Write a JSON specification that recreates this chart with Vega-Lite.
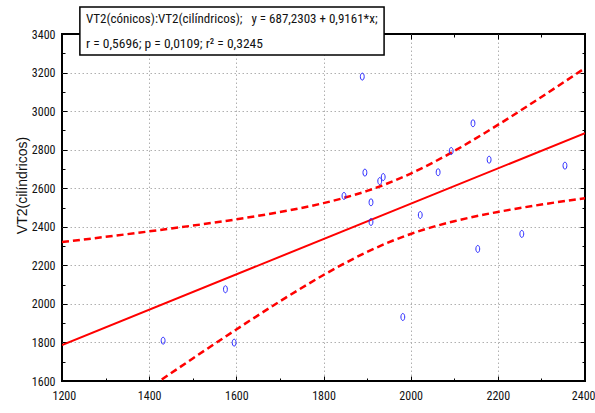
{
  "$schema": "https://vega.github.io/schema/vega-lite/v6.json",
  "width": 523,
  "height": 347,
  "autosize": {"type": "none"},
  "padding": {"left": 62, "top": 34, "right": 10, "bottom": 32},
  "background": "white",
  "config": {
    "view": {"stroke": "black", "strokeWidth": 2},
    "axis": {"labelFont": "Liberation Sans Narrow, Roboto Condensed, DejaVu Sans Condensed, Liberation Sans, sans-serif", "labelFontSize": 12, "labelColor": "#111111", "tickColor": "black", "tickWidth": 1, "domain": false, "grid": false, "labels": false, "format": "d", "labelFlush": false}
  },
  "datasets": {
    "pts": [
      {"x": 1432, "y": 1809}, {"x": 1575, "y": 2076}, {"x": 1595, "y": 1799}, {"x": 1847, "y": 2560},
      {"x": 1889, "y": 3179}, {"x": 1895, "y": 2681}, {"x": 1909, "y": 2527}, {"x": 1909, "y": 2425},
      {"x": 1929, "y": 2637}, {"x": 1937, "y": 2658}, {"x": 1982, "y": 1932}, {"x": 2022, "y": 2461},
      {"x": 2063, "y": 2683}, {"x": 2093, "y": 2793}, {"x": 2143, "y": 2937}, {"x": 2154, "y": 2285},
      {"x": 2180, "y": 2748}, {"x": 2255, "y": 2363}, {"x": 2354, "y": 2717}
    ],
    "fit": [{"x": 1200, "y": 1786.6}, {"x": 2400, "y": 2885.9}],
    "band": [
      {"x": 1200, "upper": 2320.5, "lower": 1252.6},
      {"x": 1300, "upper": 2347.8, "lower": 1408.6},
      {"x": 1400, "upper": 2376.1, "lower": 1563.5},
      {"x": 1500, "upper": 2406.0, "lower": 1716.8},
      {"x": 1600, "upper": 2438.7, "lower": 1867.3},
      {"x": 1700, "upper": 2476.2, "lower": 2013.0},
      {"x": 1800, "upper": 2522.7, "lower": 2149.7},
      {"x": 1900, "upper": 2586.2, "lower": 2269.4},
      {"x": 2000, "upper": 2676.1, "lower": 2362.7},
      {"x": 2100, "upper": 2793.1, "lower": 2428.9},
      {"x": 2200, "upper": 2928.3, "lower": 2477.0},
      {"x": 2300, "upper": 3073.2, "lower": 2515.3},
      {"x": 2400, "upper": 3223.3, "lower": 2548.5}
    ]
  },
  "resolve": {"axis": {"x": "independent", "y": "independent"}},
  "layer": [
    {
      "data": {"name": "band"},
      "mark": {"type": "line", "color": "#ff0000", "strokeWidth": 2.5, "strokeDash": [7, 4], "interpolate": "natural", "clip": true},
      "encoding": {
        "x": {"field": "x", "type": "quantitative", "scale": {"domain": [1200, 2400], "nice": false, "zero": false},
              "axis": {"orient": "bottom", "values": [1400, 1600, 1800, 2000, 2200], "grid": true, "gridColor": "#b0b0b0", "gridDash": [1.5, 2.5], "gridWidth": 1, "ticks": false, "labels": false, "title": null}},
        "y": {"field": "upper", "type": "quantitative", "scale": {"domain": [1600, 3400], "nice": false, "zero": false},
              "axis": {"orient": "left", "values": [1800, 2000, 2200, 2400, 2600, 2800, 3000, 3200], "grid": true, "gridColor": "#b0b0b0", "gridDash": [1.5, 2.5], "gridWidth": 1, "ticks": false, "labels": false, "title": null}}
      }
    },
    {
      "data": {"name": "band"},
      "mark": {"type": "line", "color": "#ff0000", "strokeWidth": 2.5, "strokeDash": [7, 4], "interpolate": "natural", "clip": true},
      "encoding": {
        "x": {"field": "x", "type": "quantitative",
              "axis": {"orient": "bottom", "values": [1300, 1500, 1700, 1900, 2100, 2300], "tickSize": -3, "labels": false, "title": null}},
        "y": {"field": "lower", "type": "quantitative",
              "axis": {"orient": "left", "values": [1700, 1900, 2100, 2300, 2500, 2700, 2900, 3100, 3300], "tickSize": -3, "labels": false, "title": null}}
      }
    },
    {
      "data": {"name": "fit"},
      "mark": {"type": "line", "color": "#ff0000", "strokeWidth": 2, "clip": true},
      "encoding": {
        "x": {"field": "x", "type": "quantitative",
              "axis": {"orient": "top", "values": [1200, 1400, 1600, 1800, 2000, 2200, 2400], "tickSize": -5, "labels": false, "title": null}},
        "y": {"field": "y", "type": "quantitative",
              "axis": {"orient": "right", "values": [1600, 1800, 2000, 2200, 2400, 2600, 2800, 3000, 3200, 3400], "tickSize": -5, "labels": false, "title": null}}
      }
    },
    {
      "data": {"name": "band"},
      "mark": {"type": "line", "opacity": 0, "clip": true},
      "encoding": {
        "x": {"field": "x", "type": "quantitative",
              "axis": {"orient": "top", "values": [1300, 1500, 1700, 1900, 2100, 2300], "tickSize": -3, "labels": false, "title": null}},
        "y": {"field": "upper", "type": "quantitative",
              "axis": {"orient": "right", "values": [1700, 1900, 2100, 2300, 2500, 2700, 2900, 3100, 3300], "tickSize": -3, "labels": false, "title": null}}
      }
    },
    {
      "data": {"name": "pts"},
      "mark": {"type": "point", "shape": "M0,-1C0.304,-1,0.55,-0.552,0.55,0C0.55,0.552,0.304,1,0,1C-0.304,1,-0.55,0.552,-0.55,0C-0.55,-0.552,-0.304,-1,0,-1Z", "size": 49, "filled": false, "color": "#2b2bff", "strokeWidth": 1, "opacity": 1},
      "encoding": {
        "x": {"field": "x", "type": "quantitative",
              "axis": {"orient": "bottom", "values": [1200, 1400, 1600, 1800, 2000, 2200, 2400], "tickSize": -5, "labels": true, "labelPadding": 14, "labelFlush": true, "labelFlushOffset": 10, "title": null}},
        "y": {"field": "y", "type": "quantitative",
              "axis": {"orient": "left", "values": [1600, 1800, 2000, 2200, 2400, 2600, 2800, 3000, 3200, 3400], "tickSize": -5, "labels": true, "labelPadding": 12,
                       "title": "VT2(cilíndricos)", "titleFont": "Liberation Sans", "titleFontSize": 14, "titleFontWeight": "normal", "titleColor": "#111111",
                       "titleAngle": 270, "titleAlign": "center", "titleBaseline": "middle", "titleX": -40, "titleY": 151}}
      }
    },
    {
      "data": {"values": [{}]},
      "mark": {"type": "rect", "fill": "white", "stroke": "black", "strokeWidth": 1.5},
      "encoding": {
        "x": {"datum": 1241, "type": "quantitative", "axis": null},
        "x2": {"datum": 1939},
        "y": {"datum": 3540, "type": "quantitative", "axis": null},
        "y2": {"datum": 3291}
      }
    },
    {
      "data": {"values": [{"label": "VT2(cónicos):VT2(cilíndricos);\u00a0\u00a0 y = 687,2303 + 0,9161*x;"}]},
      "mark": {"type": "text", "font": "Liberation Sans Narrow, Roboto Condensed, DejaVu Sans Condensed, Liberation Sans, sans-serif", "fontSize": 13, "color": "#111111", "align": "left", "baseline": "alphabetic"},
      "encoding": {
        "x": {"datum": 1255, "type": "quantitative", "axis": null},
        "y": {"datum": 3457, "type": "quantitative", "axis": null},
        "text": {"field": "label"}
      }
    },
    {
      "data": {"values": [{"label": "r = 0,5696; p = 0,0109; r² = 0,3245"}]},
      "mark": {"type": "text", "font": "Liberation Sans Narrow, Roboto Condensed, DejaVu Sans Condensed, Liberation Sans, sans-serif", "fontSize": 13.5, "color": "#111111", "align": "left", "baseline": "alphabetic"},
      "encoding": {
        "x": {"datum": 1255, "type": "quantitative", "axis": null},
        "y": {"datum": 3329, "type": "quantitative", "axis": null},
        "text": {"field": "label"}
      }
    }
  ]
}
